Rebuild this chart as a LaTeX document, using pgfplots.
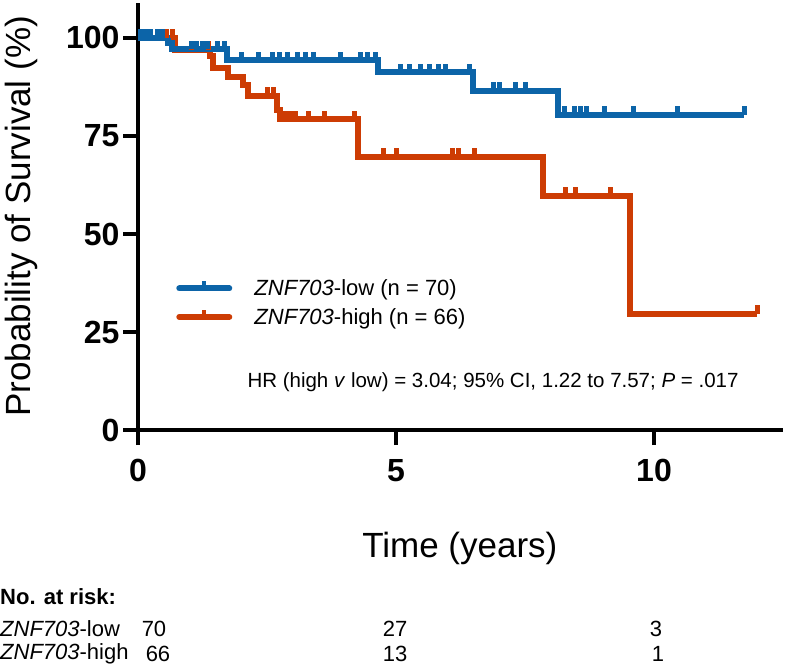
\documentclass[border=0pt]{standalone}
\usepackage{fontspec}
\setmainfont{Liberation Sans}
\usepackage{pgfplots}
\pgfplotsset{compat=1.18}

\definecolor{kmblue}{RGB}{12,100,168}
\definecolor{kmred}{RGB}{205,60,4}

% censor tick: short stroke upward from the curve
\pgfdeclareplotmark{cens}{%
  \pgfpathmoveto{\pgfpoint{0pt}{0pt}}%
  \pgfpathlineto{\pgfpoint{0pt}{\pgfplotmarksize}}%
  \pgfusepathqstroke}

\begin{document}
\begin{tikzpicture}[x=1pt,y=1pt]
\useasboundingbox (-138,-236) rectangle (648,430);
\begin{axis}[
  at={(0,0)}, anchor=origin,
  scale only axis, width=645pt, height=427.3pt,
  xmin=0, xmax=12.5, ymin=0, ymax=109,
  axis x line=bottom, axis y line=left,
  axis line style={line width=4pt, -},
  xtick={0,5,10}, ytick={0,25,50,75,100},
  tick align=outside, major tick length=15pt,
  tick style={line width=4pt, black},
  /pgf/number format/assume math mode=true,
  ticklabel style={font=\fontsize{32}{32}\selectfont\bfseries},
  xticklabel style={yshift=-11pt},
  xlabel={Time (years)}, ylabel={Probability of Survival (\%)},
  label style={font=\fontsize{35}{35}\selectfont},
  xlabel style={at={(axis description cs:0.499,-0.278)}, anchor=center},
  ylabel style={at={(axis description cs:-0.18,0.50)}, anchor=center},
  clip=false,
  legend style={at={(axis cs:0.68,39.4)}, anchor=north west, draw=none, fill=none,
    font=\fontsize{22}{26}\selectfont, row sep=7pt},
  legend cell align=left,
  legend image code/.code={
    \draw[#1, line width=6pt, line cap=round] (0pt,0pt) -- (50pt,0pt);
    \draw[#1, line width=4pt] (25pt,0pt) -- (25pt,7pt);
    \path (73pt,0pt);
  },
]
\addlegendimage{kmblue}
\addlegendentry{\textit{ZNF703}-low (n = 70)}
\addlegendimage{kmred}
\addlegendentry{\textit{ZNF703}-high (n = 66)}

% high group
\addplot[forget plot, kmred, line width=6pt, const plot] coordinates {
 (0,100) (0.72,97.0) (1.40,95.4) (1.45,92.4) (1.74,90.1) (2.03,88.0)
 (2.13,85.3) (2.69,81.7) (2.76,79.3) (4.26,69.7) (7.85,59.7) (9.53,29.7)
 (12.0,29.7)};
\addplot[forget plot, kmred, only marks, mark=cens, mark size=8.5pt, line width=5pt] coordinates {
 (0.55,100) (0.66,100) (1.04,97.0) (1.36,97.0) (2.50,85.3) (2.62,85.3)
 (2.85,79.3) (2.95,79.3) (3.05,79.3) (3.30,79.3) (3.62,79.3) (4.20,79.3)
 (4.75,69.7) (5.00,69.7) (6.10,69.7) (6.22,69.7) (6.53,69.7)
 (8.28,59.7) (8.47,59.7) (9.15,59.7) (12.0,29.7)};

% low group
\addplot[forget plot, kmblue, line width=6pt, const plot] coordinates {
 (0,100) (0.58,98.6) (0.66,97.1) (1.72,94.3) (4.65,91.3) (6.50,86.6)
 (8.14,80.4) (11.75,80.4)};
\addplot[forget plot, kmblue, only marks, mark=cens, mark size=8.5pt, line width=5pt] coordinates {
 (0.05,100) (0.15,100) (0.25,100) (0.38,100) (0.47,100)
 (1.03,97.1) (1.13,97.1) (1.25,97.1) (1.35,97.1) (1.55,97.1) (1.67,97.1)
 (2.00,94.3) (2.33,94.3) (2.60,94.3) (2.75,94.3) (2.90,94.3) (3.10,94.3)
 (3.25,94.3) (3.40,94.3) (3.92,94.3) (4.32,94.3) (4.45,94.3) (4.60,94.3)
 (5.08,91.3) (5.27,91.3) (5.47,91.3) (5.65,91.3) (5.82,91.3) (5.95,91.3) (6.42,91.3)
 (6.88,86.6) (7.00,86.6) (7.32,86.6) (7.50,86.6)
 (8.26,80.4) (8.45,80.4) (8.57,80.4) (8.70,80.4) (9.05,80.4) (9.60,80.4)
 (10.45,80.4) (11.75,80.4)};
\end{axis}

\node[anchor=west, font=\fontsize{20.5}{24}\selectfont] at (106,48)
  {HR (high \textit{v} low) = 3.04; 95\% CI, 1.22 to 7.57; \textit{P} = .017};

\begin{scope}[every node/.style={font=\fontsize{22}{26}\selectfont, inner sep=0pt}]
\node[anchor=west, font=\fontsize{22}{26}\selectfont\bfseries] at (-138,-167) {No. at risk:};
\node[anchor=west] at (-138,-199) {\textit{ZNF703}-low};
\node at (16,-199) {70};
\node at (257,-199) {27};
\node at (518,-199) {3};
\node[anchor=west] at (-138,-224) {\textit{ZNF703}-high};
\node at (20,-224) {66};
\node at (257,-224) {13};
\node at (520,-224) {1};
\end{scope}
\end{tikzpicture}
\end{document}
